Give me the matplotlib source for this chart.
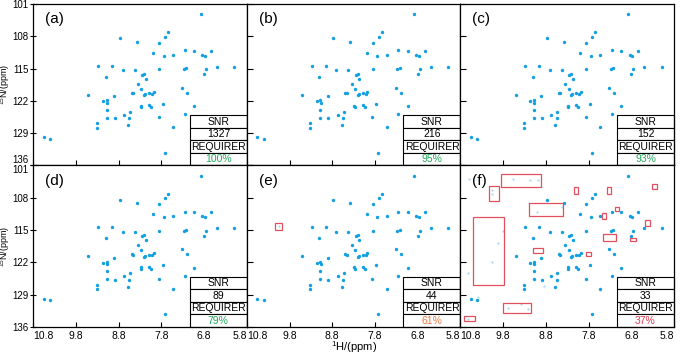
import matplotlib.pyplot as plt
from matplotlib.patches import Rectangle

plt.rcParams["font.family"] = ["Liberation Sans", "DejaVu Sans"]
plt.rcParams["mathtext.default"] = "regular"

# peak list (1H ppm, 15N ppm)
peak_h = [6.88, 7.64, 7.71, 8.78, 8.38, 7.85, 7.99, 7.75, 7.53, 7.26, 7.03, 6.84, 6.78, 6.64,
          9.28, 8.95, 8.71, 8.43, 7.85, 7.28, 7.22, 6.75, 6.80, 6.50, 6.09, 9.10, 8.25, 8.21,
          8.17, 8.35, 9.51, 9.17, 9.08, 9.07, 8.91, 8.50, 8.46, 8.27, 8.21, 8.18, 8.09, 8.02,
          7.98, 7.32, 7.20, 9.08, 9.32, 9.32, 9.08, 8.89, 8.67, 8.53, 8.55, 8.58, 8.29, 8.28,
          8.09, 8.04, 7.77, 7.86, 7.26, 7.03, 7.53, 10.56, 10.41, 7.72]
peak_n = [103.2, 107.1, 108.1, 108.4, 109.2, 109.4, 111.6, 112.2, 112.0, 111.0, 111.1, 112.0, 112.2, 111.1,
          114.4, 114.4, 115.4, 115.4, 115.1, 115.1, 114.9, 115.1, 116.2, 114.6, 114.6, 116.8, 116.3, 116.1,
          117.2, 118.3, 120.7, 122.1, 121.9, 122.4, 121.0, 120.2, 120.3, 119.4, 120.8, 120.6, 120.3, 120.5,
          120.0, 119.2, 120.2, 123.9, 126.8, 127.8, 125.6, 125.8, 125.0, 124.3, 125.8, 127.3, 123.0, 123.4,
          122.9, 123.4, 122.6, 125.5, 124.9, 123.2, 127.7, 129.9, 130.2, 133.2]

panel_names = ["(a)", "(b)", "(c)", "(d)", "(e)", "(f)"]
snr_values = ["1327", "216", "152", "89", "44", "33"]
requirer = ["100%", "95%", "93%", "79%", "61%", "37%"]
requirer_colors = ["#22a85a", "#22a85a", "#22a85a", "#22a85a", "#f07a45", "#e8384f"]

# false peak boxes: (h_left, h_right, n_top, n_bottom)
boxes_e = [(10.13, 9.97, 113.5, 114.9)]
boxes_f = [(9.855, 8.925, 102.9, 105.7), (10.14, 9.89, 105.5, 108.7), (9.20, 8.40, 109.2, 112.0),
           (10.51, 9.77, 112.2, 126.9), (9.81, 9.15, 130.9, 133.0), (10.72, 10.46, 133.6, 134.8),
           (8.14, 8.05, 105.7, 107.2), (7.37, 7.28, 105.7, 107.1), (6.32, 6.20, 105.0, 106.1),
           (7.19, 7.10, 110.1, 110.9), (7.48, 7.39, 111.4, 112.6), (6.48, 6.36, 112.9, 114.2),
           (7.46, 7.15, 115.9, 117.4), (6.84, 6.69, 116.7, 117.3), (9.10, 8.86, 118.9, 119.9),
           (7.85, 7.74, 119.7, 120.7)]
boxes = [[], [], [], [], boxes_e, boxes_f]

faint_h_f = [9.57, 9.18, 8.98, 10.07, 10.05, 9.01, 8.42, 9.81, 9.91, 10.05, 10.62, 8.85, 9.68, 9.38,
             9.21, 10.62, 10.38, 10.60]
faint_n_f = [103.9, 104.1, 104.1, 106.3, 107.2, 111.1, 110.1, 115.3, 117.8, 122.0, 124.3, 127.2, 131.9,
             131.1, 132.0, 134.3, 129.4, 104.0]
faint_h = [[], [], [], [], [10.05], faint_h_f]
faint_n = [[], [], [], [], [114.2], faint_n_f]

x_ticks = [10.8, 9.8, 8.8, 7.8, 6.8, 5.8]
y_ticks = [101, 108, 115, 122, 129, 136]

fig, axes = plt.subplots(2, 3, figsize=(6.85, 3.54), dpi=100, sharex=True, sharey=True)
fig.subplots_adjust(left=0.0486, right=0.984, top=0.9887, bottom=0.0763, wspace=0, hspace=0)

for i, ax in enumerate(axes.flat):
    row, col = divmod(i, 3)
    ax.scatter(peak_h, peak_n, s=6, color="#12a0e0", linewidths=0, zorder=2)
    if faint_h[i]:
        ax.scatter(faint_h[i], faint_n[i], s=2.5, color="#a6d8f0", linewidths=0, zorder=2)
    for h0, h1, n0, n1 in boxes[i]:
        ax.add_patch(Rectangle((h0, n0), h1 - h0, n1 - n0, fill=False,
                               edgecolor="#e0505e", linewidth=0.9, zorder=2.1))

    ax.set_xlim(10.8, 5.8)
    ax.set_ylim(136, 101)
    ax.set_xticks(x_ticks)
    ax.set_yticks(y_ticks)
    ax.tick_params(axis="x", direction="in", length=3.5, labelsize=7.5, pad=3)
    ax.tick_params(axis="y", direction="inout" if col == 0 else "in", length=4, labelsize=7, pad=1.5)
    for sp in ax.spines.values():
        sp.set_linewidth(0.9)

    ax.text(0.055, 0.95, panel_names[i], transform=ax.transAxes, fontsize=11, va="top", ha="left")

    tbl = ax.table(cellText=[["SNR"], [snr_values[i]], ["REQUIRER"], [requirer[i]]],
                   cellLoc="center", bbox=[0.733, 0.0, 0.267, 0.31])
    tbl.auto_set_font_size(False)
    for (r, c), cell in tbl.get_celld().items():
        cell.set_linewidth(0.8)
        cell.set_fontsize(7.5)
        cell.PAD = 0.02
        if r == 3:
            cell.get_text().set_color(requirer_colors[i])
    tbl.set_zorder(2.2)

    if col == 0:
        ax.set_ylabel("$^{15}$N/(ppm)", fontsize=6.5, va="center")
        ax.yaxis.set_label_coords(-0.131, 0.5)

# tick label alignment at the shared panel borders
for ax in axes[1]:
    labels = ax.get_xticklabels()
    labels[0].set_ha("left")
    labels[-1].set_ha("right")
axes[0, 0].get_yticklabels()[-1].set_va("bottom")
axes[1, 0].get_yticklabels()[0].set_va("top")

axes[1, 1].set_xlabel("$^{1}$H/(ppm)", fontsize=8, va="top")
axes[1, 1].xaxis.set_label_coords(0.5, -0.078)

fig.savefig("out.png", dpi=100)
